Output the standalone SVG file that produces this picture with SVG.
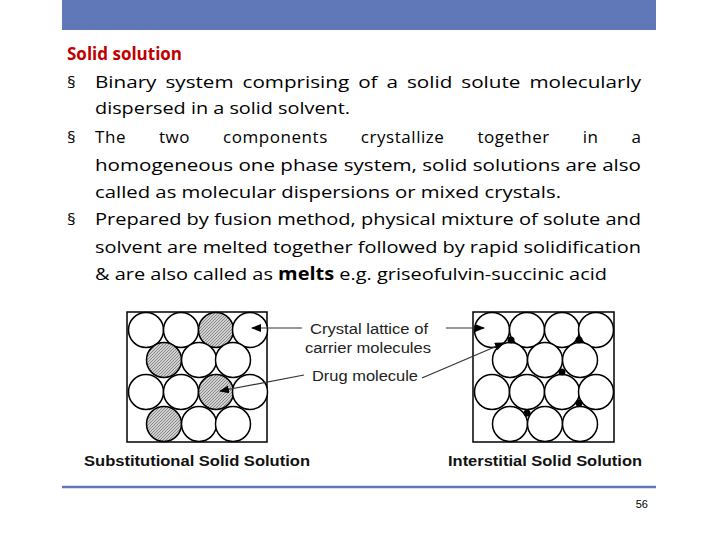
<svg xmlns="http://www.w3.org/2000/svg" width="720" height="540" viewBox="0 0 720 540">
<style>
.t{font-family:"Open Sans","Liberation Sans",sans-serif;font-size:17px;fill:#000}
.b{font-family:"Liberation Sans",sans-serif;font-size:14px;fill:#111}
.l{font-family:"Liberation Sans",sans-serif;font-size:14px;fill:#222}
.c{fill:#fff;stroke:#000;stroke-width:1.5}
.s{fill:url(#hat);stroke:#000;stroke-width:1.5}
.ln{stroke:#333;stroke-width:1.2;fill:none;marker-end:url(#ar)}
</style>
<defs>
<pattern id="hat" width="3" height="3" patternUnits="userSpaceOnUse"><rect width="3" height="3" fill="#d0d0d0"/><path d="M0 3L3 0" stroke="#777" stroke-width="0.8"/></pattern>
<marker id="ar" markerWidth="10" markerHeight="8" refX="9" refY="4" orient="auto" markerUnits="userSpaceOnUse"><path d="M0 0L10 4L0 8z" fill="#000"/></marker>
</defs>
<rect x="0" y="0" width="720" height="540" fill="#fff"/>
<rect x="62" y="0" width="594" height="30" fill="#6178b8"/>
<line x1="62" y1="487" x2="656" y2="487" stroke="#6178b8" stroke-width="2.5"/>
<g id="text">
<text class="t" x="67" y="60" font-weight="bold" style="fill:#c00000">Solid solution</text>
<text class="t" x="67" y="88">§</text>
<text class="t" x="95" y="88" textLength="546" lengthAdjust="spacingAndGlyphs" word-spacing="3">Binary system comprising of a solid solute molecularly</text>
<text class="t" x="95" y="114" textLength="255" lengthAdjust="spacingAndGlyphs">dispersed in a solid solvent.</text>
<text class="t" x="67" y="143">§</text>
<text class="t" x="95" y="143" textLength="546" lengthAdjust="spacing" word-spacing="28">The two components crystallize together in a</text>
<text class="t" x="95" y="171" textLength="546" lengthAdjust="spacingAndGlyphs">homogeneous one phase system, solid solutions are also</text>
<text class="t" x="95" y="198" textLength="466" lengthAdjust="spacingAndGlyphs">called as molecular dispersions or mixed crystals.</text>
<text class="t" x="67" y="225">§</text>
<text class="t" x="95" y="225" textLength="546" lengthAdjust="spacingAndGlyphs">Prepared by fusion method, physical mixture of solute and</text>
<text class="t" x="95" y="253" textLength="546" lengthAdjust="spacingAndGlyphs">solvent are melted together followed by rapid solidification</text>
<text class="t" x="95" y="280" textLength="512" lengthAdjust="spacingAndGlyphs">&amp; are also called as <tspan font-weight="bold">melts</tspan> e.g. griseofulvin-succinic acid</text>
</g>
<g id="substitutional">
<rect x="127" y="312" width="140" height="130" fill="#fff" stroke="#000" stroke-width="1.5"/>
<circle class="c" cx="146" cy="330" r="17.5"/><circle class="c" cx="181" cy="330" r="17.5"/><circle class="s" cx="216" cy="330" r="17.5"/><circle class="c" cx="250" cy="330" r="17.5"/>
<circle class="s" cx="164" cy="360" r="17.5"/><circle class="c" cx="199" cy="360" r="17.5"/><circle class="c" cx="233" cy="360" r="17.5"/>
<circle class="c" cx="146" cy="392" r="17.5"/><circle class="c" cx="181" cy="392" r="17.5"/><circle class="s" cx="216" cy="392" r="17.5"/><circle class="c" cx="250" cy="392" r="17.5"/>
<circle class="s" cx="164" cy="424" r="17.5"/><circle class="c" cx="199" cy="424" r="17.5"/><circle class="c" cx="233" cy="424" r="17.5"/>
<text class="b" x="84" y="466" font-weight="bold" textLength="226" lengthAdjust="spacingAndGlyphs">Substitutional Solid Solution</text>
</g>
<g id="interstitial">
<rect x="473" y="312" width="141" height="130" fill="#fff" stroke="#000" stroke-width="1.5"/>
<circle class="c" cx="492" cy="330" r="17.5"/><circle class="c" cx="527" cy="330" r="17.5"/><circle class="c" cx="562" cy="330" r="17.5"/><circle class="c" cx="596" cy="330" r="17.5"/>
<circle class="c" cx="510" cy="360" r="17.5"/><circle class="c" cx="545" cy="360" r="17.5"/><circle class="c" cx="580" cy="360" r="17.5"/>
<circle class="c" cx="492" cy="392" r="17.5"/><circle class="c" cx="527" cy="392" r="17.5"/><circle class="c" cx="562" cy="392" r="17.5"/><circle class="c" cx="596" cy="392" r="17.5"/>
<circle class="c" cx="510" cy="424" r="17.5"/><circle class="c" cx="545" cy="424" r="17.5"/><circle class="c" cx="580" cy="424" r="17.5"/>
<g fill="#000"><circle cx="511" cy="340" r="3.5"/><circle cx="579" cy="340" r="3.5"/><circle cx="562" cy="372" r="3.5"/><circle cx="579" cy="403" r="3.5"/><circle cx="527" cy="413" r="3.5"/></g>
<text class="b" x="448" y="466" font-weight="bold" textLength="194" lengthAdjust="spacingAndGlyphs">Interstitial Solid Solution</text>
</g>
<g id="labels">
<text class="l" x="310" y="334" textLength="118" lengthAdjust="spacingAndGlyphs">Crystal lattice of</text>
<text class="l" x="305" y="353" textLength="126" lengthAdjust="spacingAndGlyphs">carrier molecules</text>
<text class="l" x="312" y="381" textLength="106" lengthAdjust="spacingAndGlyphs">Drug molecule</text>
</g>
<g id="connectors">
<line class="ln" x1="302" y1="328" x2="252" y2="328"/>
<line class="ln" x1="446" y1="328" x2="484" y2="328"/>
<line class="ln" x1="304" y1="375" x2="220" y2="391"/>
<line class="ln" x1="422" y1="378" x2="504" y2="343"/>
</g>
<text x="648" y="508" font-family="Liberation Sans,sans-serif" font-size="11" text-anchor="end">56</text>
</svg>
